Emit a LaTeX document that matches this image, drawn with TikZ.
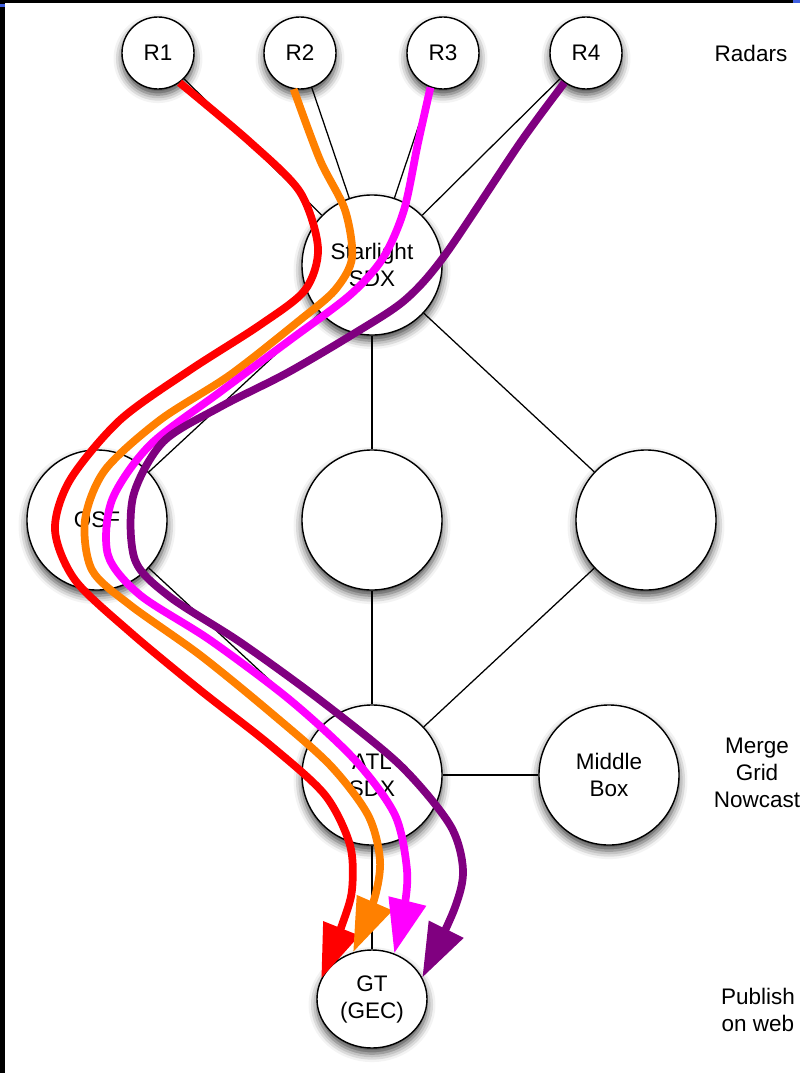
\documentclass[tikz,border=0pt]{standalone}
\usepackage{fontspec}
\setmainfont{Liberation Sans}
\usetikzlibrary{arrows.meta,shapes.geometric,shadows.blur}
\definecolor{pathred}{RGB}{255,0,0}
\definecolor{pathorange}{RGB}{255,128,0}
\definecolor{pathpink}{RGB}{255,0,255}
\definecolor{pathpurple}{RGB}{128,0,128}
\definecolor{edgeblue}{RGB}{64,96,224}
\begin{document}
\begin{tikzpicture}[x=0.025cm, y=-0.025cm,
  every node/.style={font=\fontsize{16}{19.2}\selectfont, align=center},
  site/.style={draw, circle, fill=white, line width=1pt, inner sep=0pt, minimum size=3.5cm,
    blur shadow={shadow xshift=0pt, shadow yshift=-4pt, shadow blur radius=6pt, shadow opacity=75}},
  radar/.style={site, minimum size=1.8cm},
  link/.style={line width=0.9pt},
  flow/.style={line width=5.5pt, -{Triangle[length=1.35cm, width=0.92cm]}}]
\useasboundingbox (0,0) rectangle (800,1073);
\fill[black] (0,0) rectangle (800,3);
\fill[black] (0,0) rectangle (5,1073);
\fill[edgeblue] (0,4) rectangle (5,7);
\fill[edgeblue] (793,0) rectangle (800,3);
\node[radar] (R1) at (158,53) {R1};
\node[radar] (R2) at (300,53) {R2};
\node[radar] (R3) at (443,53) {R3};
\node[radar] (R4) at (586,53) {R4};
\node[site] (SDX1) at (372,265) {Starlight\\SDX};
\node[site] (OSF) at (97,520) {OSF};
\node[site] (C2) at (372,520) {};
\node[site] (C3) at (646,520) {};
\node[site] (SDX2) at (372,775) {ATL\\SDX};
\node[site] (MB) at (609,775) {Middle\\Box};
\node[site, ellipse, minimum width=2.75cm, minimum height=2.45cm] (GT) at (372,999) {GT\\(GEC)};
\node (L1) at (751,53) {Radars};
\node (L2) at (757,773) {Merge\\Grid\\Nowcast};
\node (L3) at (758,1010) {Publish\\on web};
\draw[link] (R1) -- (SDX1);
\draw[link] (R2) -- (SDX1);
\draw[link] (R3) -- (SDX1);
\draw[link] (R4) -- (SDX1);
\draw[link] (SDX1) -- (OSF);
\draw[link] (SDX1) -- (C2);
\draw[link] (SDX1) -- (C3);
\draw[link] (OSF) -- (SDX2);
\draw[link] (C2) -- (SDX2);
\draw[link] (C3) -- (SDX2);
\draw[link] (SDX2) -- (MB);
\draw[link] (SDX2) -- (GT);
\draw[flow, pathred] plot[smooth] coordinates {(R1.-54) (250,142) (300,192) (318,248) (305,290) (260,325) (190,370) (120,420) (70,480) (55,530) (75,580) (130,632) (200,690) (270,745) (325,795) (350,845) (352,890) (342,925) (GT.158)};
\draw[flow, pathorange] plot[smooth] coordinates {(R2.-100) (320,160) (345,210) (352,258) (335,290) (300,320) (230,375) (160,420) (105,470) (85,520) (92,570) (130,605) (200,655) (270,712) (330,765) (368,815) (380,860) (374,900) (GT.112)};
\draw[flow, pathpink] plot[smooth] coordinates {(R3.-110) (418,143) (404,210) (383,258) (350,295) (290,340) (220,392) (150,445) (112,500) (108,555) (140,595) (210,640) (290,700) (355,760) (395,815) (407,870) (404,910) (GT.64)};
\draw[flow, pathpurple] plot[smooth] coordinates {(R4.-126) (520,143) (445,255) (405,300) (355,333) (287,373) (220,407) (163,442) (133,497) (135,560) (170,597) (240,642) (320,700) (400,765) (450,825) (463,870) (454,910) (GT.23)};
\end{tikzpicture}
\end{document}
